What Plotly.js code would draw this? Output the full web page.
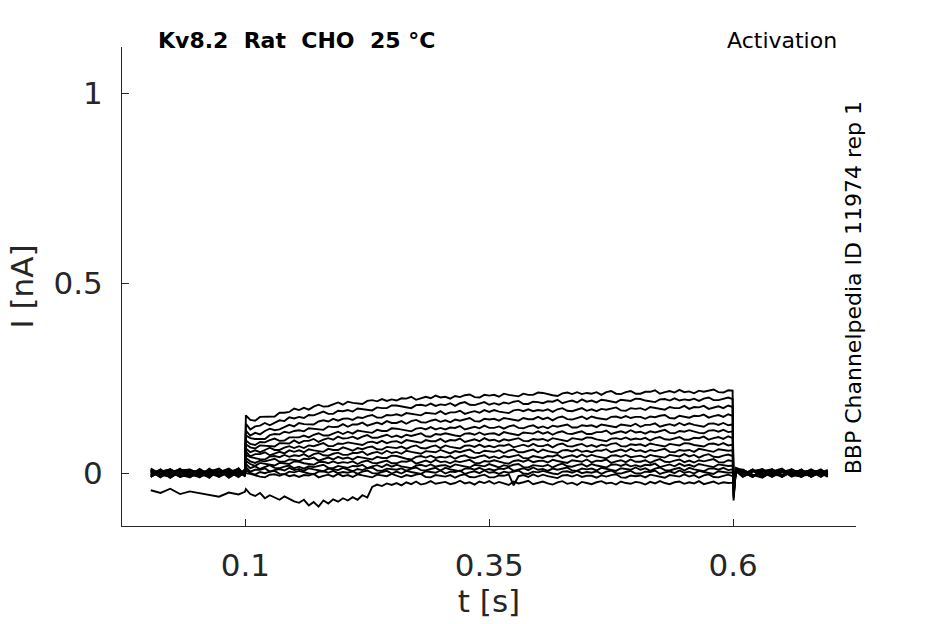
<!DOCTYPE html>
<html>
<head>
<meta charset="utf-8">
<script src="https://cdn.plot.ly/plotly-3.0.1.min.js"></script>
<style>
  body { margin: 0; background: #fff; }
  #chart { width: 945px; height: 624px; }
</style>
</head>
<body>
<div id="chart"></div>
<script>
// sample times [s]: baseline, step 0.1-0.6 s, tail
const timeS = [
  0.003, 0.013, 0.023, 0.033, 0.043, 0.053, 0.063, 0.073, 0.083, 0.093, 0.0995,
  0.1005,
  0.105, 0.110, 0.115, 0.120, 0.125, 0.130, 0.135, 0.140, 0.145, 0.150,
  0.155, 0.160, 0.165, 0.170, 0.175, 0.180, 0.185, 0.190, 0.195, 0.200,
  0.205, 0.210, 0.215, 0.220, 0.225, 0.230, 0.235, 0.240, 0.245, 0.250,
  0.255, 0.260, 0.265, 0.270, 0.275, 0.280, 0.285, 0.290, 0.295, 0.300,
  0.305, 0.310, 0.315, 0.320, 0.325, 0.330, 0.335, 0.340, 0.345, 0.350,
  0.355, 0.360, 0.365, 0.370, 0.375, 0.380, 0.385, 0.390, 0.395, 0.400,
  0.405, 0.410, 0.415, 0.420, 0.425, 0.430, 0.435, 0.440, 0.445, 0.450,
  0.455, 0.460, 0.465, 0.470, 0.475, 0.480, 0.485, 0.490, 0.495, 0.500,
  0.505, 0.510, 0.515, 0.520, 0.525, 0.530, 0.535, 0.540, 0.545, 0.550,
  0.555, 0.560, 0.565, 0.570, 0.575, 0.580, 0.585, 0.590, 0.595,
  0.5995,
  0.6005, 0.603, 0.61, 0.62, 0.63, 0.64, 0.65, 0.66, 0.67, 0.68, 0.69, 0.697
];

// currents [pA], one array per voltage sweep
const sweep01 = [
  5,-8,10,-3,9,-11,4,12,-6,7,2,
  152,
  140,138,148,148,148,149,159,159,161,170,
  166,172,167,175,180,175,176,181,186,180,
  188,185,183,182,190,192,189,195,190,194,
  191,197,196,201,193,197,201,197,204,199,
  201,196,203,200,205,207,200,199,206,204,
  206,201,209,206,203,202,209,206,206,212,
  211,207,205,203,210,212,208,213,208,211,
  209,213,206,213,216,209,208,213,216,209,
  209,214,214,218,209,213,216,212,219,213,
  215,210,217,214,218,220,213,212,218,
  217,
  -72,14,7,-9,5,10,-5,4,-10,9,-2,5
];
const sweep02 = [
  -9,7,-4,12,-10,2,-6,9,-12,4,-2,
  130,
  115,123,125,132,126,133,139,137,147,144,
  148,145,153,152,158,162,156,156,164,163,
  166,162,170,168,166,165,173,171,171,178,
  178,175,172,171,179,180,177,183,177,181,
  179,184,177,184,187,180,179,184,187,180,
  184,180,186,183,188,190,182,182,188,187,
  184,189,188,193,184,188,191,186,194,188,
  191,186,193,191,188,186,193,191,190,196,
  195,191,189,187,194,195,191,197,191,194,
  192,196,190,196,199,192,192,196,199,
  195,
  -65,12,-5,9,-10,4,12,-7,2,-9,7,-4
];
const sweep03 = [
  4,-11,9,-2,-7,11,-4,6,-9,13,-5,
  112,
  99,106,102,111,117,113,115,121,127,123,
  132,129,128,128,136,139,136,143,138,143,
  144,140,147,145,150,153,146,146,153,152,
  155,151,158,156,153,152,159,157,156,163,
  155,160,160,164,156,160,163,159,166,161,
  166,162,160,158,165,167,163,168,163,166,
  164,168,161,168,171,164,163,167,171,164,
  168,163,169,167,171,173,165,164,171,169,
  171,166,174,171,168,167,174,171,171,177,
  169,174,173,177,169,173,176,171,178,
  174,
  -60,10,9,-4,-12,5,-7,10,-2,4,-10,2
];
const sweep04 = [
  -4,9,-12,5,2,-8,10,-5,4,-10,7,
  99,
  92,90,90,90,100,103,102,109,106,111,
  113,110,118,117,115,114,123,121,122,129,
  122,128,128,133,125,129,133,129,137,132,
  132,137,130,137,140,134,133,138,141,135,
  139,134,141,138,142,145,137,136,143,141,
  143,138,145,143,140,138,145,142,142,148,
  142,146,139,146,149,142,141,145,149,142,
  149,145,142,141,148,149,145,150,145,148,
  148,143,149,147,151,153,145,144,151,149,
  146,151,150,154,146,150,153,148,155,
  151,
  -55,9,-7,5,10,-9,2,-4,9,-10,4,-2
];
const sweep05 = [
  10,-5,2,-9,7,4,-12,9,-2,5,-7,
  86,
  77,74,82,81,87,91,85,86,94,94,
  94,99,94,101,105,99,99,104,109,103,
  109,104,112,110,107,106,114,111,111,118,
  117,114,111,110,117,119,115,121,115,119,
  115,120,119,124,115,119,122,118,125,119,
  119,123,117,123,126,119,118,123,126,119,
  123,118,125,122,126,128,120,120,126,124,
  126,121,128,125,122,121,128,125,124,130,
  122,127,127,131,122,126,129,125,132,126,
  131,127,124,122,130,131,127,132,126,
  128,
  -50,11,4,-10,7,-2,10,-5,-9,5,2,-7
];
const sweep06 = [
  -7,4,10,-10,-2,9,-5,2,12,-4,5,
  76,
  68,65,73,72,71,70,79,78,78,86,
  79,85,85,90,82,88,92,88,96,91,
  92,96,90,96,100,93,93,97,101,95,
  99,94,101,98,102,105,97,96,103,101,
  105,101,99,97,104,105,101,107,101,104,
  105,100,108,105,102,100,107,105,104,110,
  104,108,101,107,110,104,103,107,110,103,
  103,108,108,112,103,107,110,106,113,107,
  109,104,110,107,111,114,106,105,111,109,
  113,109,106,105,112,113,109,114,108,
  110,
  -45,8,-4,7,-9,10,-5,2,-10,7,4,-5
];
const sweep07 = [
  9,-9,5,0,-11,7,-4,10,-7,2,-2,
  65,
  55,60,55,62,67,61,61,67,71,66,
  71,66,73,71,76,79,71,71,78,77,
  81,78,75,74,81,83,79,85,79,83,
  84,79,87,84,81,80,87,84,84,90,
  82,87,86,91,82,86,89,84,92,86,
  88,83,89,86,90,92,85,84,90,88,
  90,85,92,89,86,84,92,89,88,94,
  93,89,86,84,91,92,89,94,88,91,
  89,93,86,92,95,89,88,92,95,88,
  88,93,92,96,88,92,95,90,97,
  92,
  -42,10,5,-7,2,9,-10,4,-4,10,-5,4
];
const sweep08 = [
  -10,5,-2,9,4,-9,12,-5,0,7,-4,
  57,
  44,50,50,55,47,52,56,52,60,56,
  60,55,63,60,58,56,64,61,61,68,
  64,59,66,63,68,70,63,62,69,67,
  66,70,64,70,73,66,65,70,73,66,
  73,69,67,65,72,73,69,75,69,72,
  68,73,72,76,68,72,75,70,77,71,
  71,75,68,75,78,71,70,74,77,70,
  74,69,75,72,77,79,71,70,76,74,
  76,71,78,75,72,70,77,74,73,79,
  78,74,72,70,77,78,74,79,73,
  75,
  -38,9,-9,4,10,-5,7,-9,2,5,-4,-7
];
const sweep09 = [
  5,-4,-10,7,10,-2,-7,4,9,-9,2,
  48,
  42,39,37,36,44,45,42,48,43,47,
  45,50,43,50,53,47,46,51,54,48,
  48,53,53,57,48,53,56,51,59,53,
  56,51,59,56,53,51,58,56,55,61,
  57,52,58,55,59,62,54,53,59,57,
  56,60,53,59,62,55,55,59,62,55,
  62,58,55,53,60,61,57,62,56,59,
  55,60,59,63,55,59,62,57,64,58,
  60,55,61,58,62,64,56,55,61,59,
  61,56,64,61,58,56,63,60,59,
  60,
  -35,8,2,-9,5,-4,9,-7,4,-2,10,-5
];
const sweep10 = [
  -5,10,-7,-2,5,-10,9,2,-4,10,-9,
  40,
  31,27,33,31,35,38,30,30,36,35,
  32,38,37,41,33,37,41,36,43,38,
  41,36,43,41,38,36,43,40,40,46,
  45,41,38,36,43,45,41,46,40,43,
  41,45,38,44,47,41,40,44,47,40,
  44,39,45,42,46,48,40,39,45,43,
  40,45,44,48,40,44,47,42,49,43,
  48,44,41,39,46,47,43,48,42,45,
  46,41,48,45,42,41,48,45,44,50,
  44,48,41,47,50,43,42,46,49,
  45,
  -32,7,-7,9,-2,5,-10,4,7,-5,0,9
];
const sweep11 = [
  12,-2,4,-9,-5,7,0,-10,5,-4,10,
  32,
  24,19,27,24,22,20,27,25,24,31,
  30,26,23,22,29,30,26,31,26,29,
  27,31,24,30,33,27,26,30,33,26,
  26,31,30,34,25,29,33,28,35,29,
  31,26,32,29,33,35,27,26,32,30,
  34,30,27,25,32,34,30,35,29,32,
  33,28,35,32,29,27,34,31,30,36,
  28,33,32,36,27,31,34,29,36,30,
  30,34,27,33,37,30,29,33,36,29,
  33,28,34,31,35,37,29,28,34,
  32,
  -28,8,9,-5,-10,2,7,-4,10,-9,4,2
];
const sweep12 = [
  -2,7,-12,4,9,-5,5,-9,2,12,-7,
  24,
  13,18,11,17,21,14,13,17,20,13,
  17,12,18,16,20,22,14,13,19,17,
  14,19,18,22,13,18,21,16,23,17,
  22,18,15,13,20,22,18,23,17,20,
  21,16,23,20,17,15,22,19,18,24,
  20,15,21,18,22,24,16,15,21,19,
  18,22,15,21,25,18,17,21,24,17,
  24,20,17,15,22,23,19,24,18,21,
  17,22,21,25,16,20,23,18,25,19,
  22,17,24,21,18,16,23,20,19,
  20,
  -24,7,-4,10,-7,4,-9,9,-2,-5,5,-10
];
const sweep13 = [
  7,-9,2,10,-4,-10,5,9,-7,0,4,
  16,
  4,9,9,13,4,8,11,7,14,8,
  11,6,13,10,7,5,12,9,8,14,
  10,5,11,8,13,15,7,6,12,10,
  9,13,6,12,15,8,7,11,14,7,
  14,10,7,5,12,13,9,14,8,11,
  7,12,11,15,6,10,13,8,15,9,
  11,6,12,9,13,15,7,6,12,10,
  12,7,14,11,8,6,13,10,9,15,
  9,13,6,12,15,8,7,11,14,7,
  14,10,7,5,12,13,9,14,8,
  10,
  -20,6,5,-7,2,-10,9,-2,4,7,-9,5
];
const sweep14 = [
  -9,4,9,-5,-10,2,7,-4,10,-7,-2,
  8,
  1,-4,3,0,4,6,-2,-3,4,2,
  6,2,-1,-3,4,5,1,6,0,3,
  1,5,-2,4,7,0,-1,3,6,-1,
  4,-1,6,3,0,-2,5,2,1,7,
  -1,4,3,7,-2,2,5,0,7,1,
  3,-2,4,1,5,7,-1,-2,4,2,
  6,2,-1,-3,4,5,1,6,0,3,
  1,5,-2,4,7,0,-1,3,6,-1,
  -1,4,3,7,-2,2,5,0,7,1,
  4,-1,6,3,0,-2,5,2,1,
  2,
  -16,5,-10,4,7,-5,2,10,-7,-4,9,0
];
const sweep15 = [
  4,-5,10,-9,5,-2,-10,7,2,-5,9,
  0,
  -2,-6,-9,-11,-4,-3,-7,-2,-8,-5,
  -10,-5,-6,-2,-11,-7,-4,-9,-2,-8,
  -5,-10,-3,-6,-9,-11,-4,-7,-8,-2,
  -6,-11,-5,-8,-4,-2,-10,-11,-5,-7,
  -9,-5,-12,-6,-3,-10,-11,-7,-4,-11,
  -11,-6,-7,-3,-32,-8,-5,-10,-3,-9,
  -4,-8,-11,-13,-6,-5,-9,-4,-10,-7,
  -7,-12,-6,-9,-5,-3,-11,-12,-6,-8,
  -6,-11,-4,-7,-10,-12,-5,-8,-9,-3,
  -9,-5,-12,-6,-3,-10,-11,-7,-4,
  -8,
  -12,4,2,-9,10,-4,-7,5,-2,9,-5,4
];
const sweep16 = [
  -45,-52,-41,-55,-48,-53,-58,-62,-51,-56,-49,
  -42,
  -55,-60,-52,-66,-58,-63,-70,-61,-68,-74,
  -78,-70,-85,-76,-88,-72,-80,-69,-75,-66,
  -72,-63,-70,-58,-64,-36,-30,-34,-27,-31,
  -26,-32,-24,-29,-22,-30,-27,-21,-28,-25,
  -23,-29,-26,-20,-27,-24,-30,-22,-26,-21,
  -28,-23,-26,-31,-22,-27,-24,-20,-29,-25,
  -22,-27,-30,-24,-21,-28,-25,-31,-23,-26,
  -29,-24,-21,-27,-25,-30,-22,-26,-28,-23,
  -25,-30,-23,-27,-21,-26,-29,-24,-22,-28,
  -24,-27,-21,-29,-25,-22,-28,-24,-26,
  -25,
  -30,6,-5,7,-4,9,-7,2,5,-9,4,-2
];

const sweeps = [sweep01, sweep02, sweep03, sweep04, sweep05, sweep06, sweep07, sweep08,
                sweep09, sweep10, sweep11, sweep12, sweep13, sweep14, sweep15, sweep16];

const xTicks = [0.1, 0.35, 0.6];
const yTicks = [0, 0.5, 1];

const FONT = "DejaVu Sans, sans-serif";
const AXIS_COLOR = "#262626";

const traces = sweeps.map(s => ({
    x: timeS,
    y: s.map(v => v / 1000),   // pA -> nA
    type: "scatter",
    mode: "lines",
    line: {color: "#000000", width: 1.9},
    hoverinfo: "skip"
}));

const layout = {
    width: 945,
    height: 624,
    margin: {l: 122, r: 89, t: 47, b: 98},
    paper_bgcolor: "#ffffff",
    plot_bgcolor: "#ffffff",
    showlegend: false,
    font: {family: FONT, color: AXIS_COLOR},
    xaxis: {
        range: [-0.0265, 0.726],
        tickvals: xTicks,
        ticks: "inside", ticklen: 7, tickwidth: 1, tickcolor: AXIS_COLOR,
        showline: true, linecolor: AXIS_COLOR, linewidth: 1,
        showgrid: false, zeroline: false,
        tickfont: {size: 31, family: FONT, color: AXIS_COLOR},
        ticklabelstandoff: 12,
        title: {text: "t [s]", font: {size: 31, family: FONT, color: AXIS_COLOR}, standoff: 8},
        automargin: false
    },
    yaxis: {
        range: [-0.139, 1.121],
        tickvals: yTicks,
        ticks: "inside", ticklen: 7, tickwidth: 1, tickcolor: AXIS_COLOR,
        showline: true, linecolor: AXIS_COLOR, linewidth: 1,
        showgrid: false, zeroline: false,
        tickfont: {size: 31, family: FONT, color: AXIS_COLOR},
        ticklabelstandoff: 12,
        title: {text: "I [nA]", font: {size: 31, family: FONT, color: AXIS_COLOR}, standoff: 10},
        automargin: false
    },
    annotations: [
        {
            text: "<b>Kv8.2\u00a0\u00a0Rat\u00a0\u00a0CHO\u00a0\u00a025\u00a0°C</b>",
            xref: "paper", yref: "paper", x: 0.047, y: 1.0146,
            xanchor: "left", yanchor: "middle", showarrow: false,
            font: {size: 22, family: FONT, color: "#000000"}
        },
        {
            text: "Activation",
            xref: "paper", yref: "paper", x: 0.9775, y: 1.0146,
            xanchor: "right", yanchor: "middle", showarrow: false,
            font: {size: 22, family: FONT, color: "#000000"}
        },
        {
            text: "BBP Channelpedia ID 11974 rep 1",
            xref: "paper", yref: "paper", x: 0.997, y: 0.498,
            xanchor: "center", yanchor: "middle", showarrow: false, textangle: -90,
            font: {size: 22, family: FONT, color: "#000000"}
        }
    ]
};

Plotly.newPlot("chart", traces, layout, {staticPlot: true, displayModeBar: false});
</script>
</body>
</html>
